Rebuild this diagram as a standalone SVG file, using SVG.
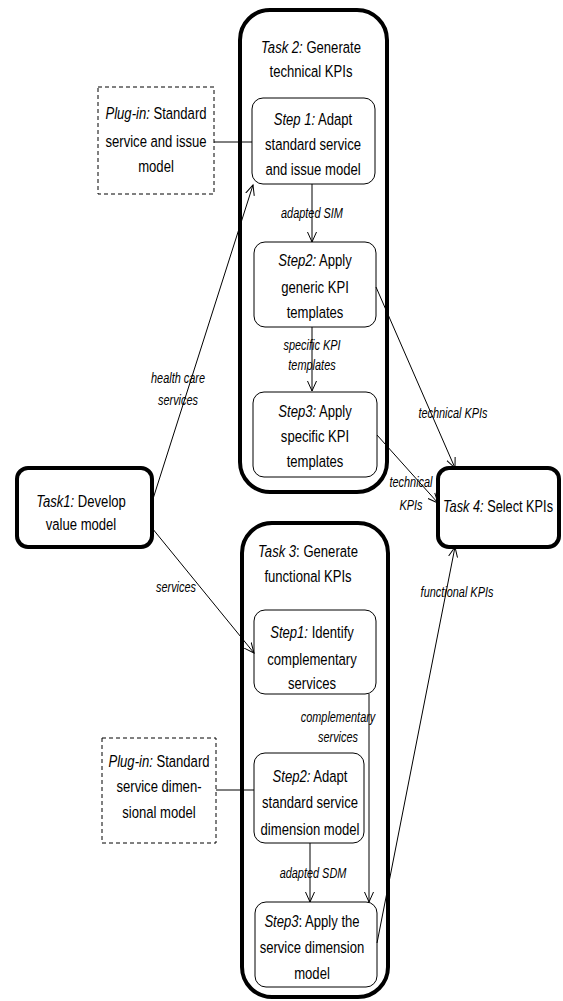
<svg xmlns="http://www.w3.org/2000/svg" width="563" height="1001" viewBox="0 0 563 1001">
<defs>
<marker id="arr" markerWidth="12" markerHeight="12" refX="10" refY="6" orient="auto" markerUnits="userSpaceOnUse">
<path d="M0,1.5 L10,6 L0,10.5" fill="none" stroke="#000" stroke-width="1"/>
</marker>
<style>
text{font-family:"Liberation Sans",Arial,sans-serif;fill:#000;text-anchor:middle}
.t{font-size:17px}
.l{font-size:14px;font-style:italic}
.i{font-style:italic}
.task{fill:#fff;stroke:#000;stroke-width:4}
.step{fill:#fff;stroke:#000;stroke-width:1}
.plug{fill:#fff;stroke:#000;stroke-width:1;stroke-dasharray:4 3}
.c{fill:none;stroke:#000;stroke-width:1}
</style>
</defs>
<rect width="563" height="1001" fill="#fff"/>

<g id="task2">
<rect class="task" x="240" y="10" width="147" height="482" rx="30"/>
<text class="t" x="0" y="53" transform="matrix(0.77 0 0 1 311 0)"><tspan class="i">Task 2:</tspan> Generate</text>
<text class="t" x="0" y="77" transform="matrix(0.77 0 0 1 311 0)">technical KPIs</text>
</g>
<g id="task3">
<rect class="task" x="242" y="523" width="146" height="474" rx="30"/>
<text class="t" x="0" y="557" transform="matrix(0.77 0 0 1 308 0)"><tspan class="i">Task 3</tspan>: Generate</text>
<text class="t" x="0" y="582" transform="matrix(0.77 0 0 1 308 0)">functional KPIs</text>
</g>
<g id="t2step1">
<rect class="step" x="252" y="98" width="123" height="86" rx="11"/>
<text class="t" x="0" y="125" transform="matrix(0.77 0 0 1 313 0)"><tspan class="i">Step 1:</tspan> Adapt</text>
<text class="t" x="0" y="150" transform="matrix(0.77 0 0 1 313 0)">standard service</text>
<text class="t" x="0" y="175" transform="matrix(0.77 0 0 1 313 0)">and issue model</text>
</g>
<g id="t2step2">
<rect class="step" x="254" y="242" width="122" height="85" rx="11"/>
<text class="t" x="0" y="266" transform="matrix(0.77 0 0 1 315 0)"><tspan class="i">Step2:</tspan> Apply</text>
<text class="t" x="0" y="293" transform="matrix(0.77 0 0 1 315 0)">generic  KPI</text>
<text class="t" x="0" y="318" transform="matrix(0.77 0 0 1 315 0)">templates</text>
</g>
<g id="t2step3">
<rect class="step" x="253" y="392" width="124" height="85" rx="11"/>
<text class="t" x="0" y="417" transform="matrix(0.77 0 0 1 315 0)"><tspan class="i">Step3:</tspan> Apply</text>
<text class="t" x="0" y="442" transform="matrix(0.77 0 0 1 315 0)">specific KPI</text>
<text class="t" x="0" y="467" transform="matrix(0.77 0 0 1 315 0)">templates</text>
</g>
<g id="t3step1">
<rect class="step" x="254" y="610" width="122" height="84" rx="11"/>
<text class="t" x="0" y="638" transform="matrix(0.77 0 0 1 312 0)"><tspan class="i">Step1:</tspan> Identify</text>
<text class="t" x="0" y="665" transform="matrix(0.77 0 0 1 312 0)">complementary</text>
<text class="t" x="0" y="689" transform="matrix(0.77 0 0 1 312 0)">services</text>
</g>
<g id="t3step2">
<rect class="step" x="254" y="753" width="110" height="90" rx="11"/>
<text class="t" x="0" y="782" transform="matrix(0.77 0 0 1 310 0)"><tspan class="i">Step2:</tspan> Adapt</text>
<text class="t" x="0" y="808" transform="matrix(0.77 0 0 1 310 0)">standard service</text>
<text class="t" x="0" y="835" transform="matrix(0.77 0 0 1 310 0)">dimension model</text>
</g>
<g id="t3step3">
<rect class="step" x="255" y="902" width="122" height="85" rx="11"/>
<text class="t" x="0" y="927" transform="matrix(0.77 0 0 1 312 0)"><tspan class="i">Step3</tspan>: Apply the</text>
<text class="t" x="0" y="953" transform="matrix(0.77 0 0 1 312 0)">service dimension</text>
<text class="t" x="0" y="979" transform="matrix(0.77 0 0 1 312 0)">model</text>
</g>
<g id="plugin1">
<rect class="plug" x="98" y="87" width="116" height="107"/>
<text class="t" x="0" y="119" transform="matrix(0.77 0 0 1 156 0)"><tspan class="i">Plug-in:</tspan> Standard</text>
<text class="t" x="0" y="147" transform="matrix(0.77 0 0 1 156 0)">service and issue</text>
<text class="t" x="0" y="172" transform="matrix(0.77 0 0 1 156 0)">model</text>
</g>
<g id="plugin2">
<rect class="plug" x="102" y="738" width="114" height="105"/>
<text class="t" x="0" y="767" transform="matrix(0.77 0 0 1 159 0)"><tspan class="i">Plug-in:</tspan> Standard</text>
<text class="t" x="0" y="792" transform="matrix(0.77 0 0 1 159 0)">service dimen-</text>
<text class="t" x="0" y="818" transform="matrix(0.77 0 0 1 159 0)">sional model</text>
</g>
<g id="task1">
<rect class="task" x="17" y="468" width="135" height="79" rx="11"/>
<text class="t" x="0" y="507" transform="matrix(0.77 0 0 1 81 0)"><tspan class="i">Task1:</tspan> Develop</text>
<text class="t" x="0" y="530" transform="matrix(0.77 0 0 1 81 0)">value model</text>
</g>
<g id="task4">
<rect class="task" x="438" y="468" width="121" height="79" rx="11"/>
<text class="t" x="0" y="512" transform="matrix(0.75 0 0 1 498 0)"><tspan class="i">Task 4:</tspan> Select KPIs</text>
</g>

<g id="connectors">
<line class="c" x1="214" y1="142" x2="252" y2="142"/>
<line class="c" x1="216" y1="790" x2="254" y2="790"/>
<line class="c" x1="312" y1="184" x2="312" y2="242" marker-end="url(#arr)"/>
<line class="c" x1="312" y1="327" x2="312" y2="391" marker-end="url(#arr)"/>
<line class="c" x1="369" y1="694" x2="369" y2="902" marker-end="url(#arr)"/>
<line class="c" x1="310" y1="843" x2="310" y2="902" marker-end="url(#arr)"/>
<line class="c" x1="152" y1="502" x2="253" y2="185" marker-end="url(#arr)"/>
<line class="c" x1="152" y1="528" x2="254" y2="653" marker-end="url(#arr)"/>
<line class="c" x1="376" y1="287" x2="455" y2="468" marker-end="url(#arr)"/>
<line class="c" x1="377" y1="435" x2="438" y2="503" marker-end="url(#arr)"/>
<line class="c" x1="377" y1="943" x2="455" y2="547" marker-end="url(#arr)"/>
<text class="l" x="0" y="218" transform="matrix(0.78 0 0 1 312 0)">adapted SIM</text>
<text class="l" x="0" y="350" transform="matrix(0.78 0 0 1 312 0)">specific KPI</text>
<text class="l" x="0" y="370" transform="matrix(0.78 0 0 1 312 0)">templates</text>
<text class="l" x="0" y="383" transform="matrix(0.78 0 0 1 178 0)">health care</text>
<text class="l" x="0" y="405" transform="matrix(0.78 0 0 1 178 0)">services</text>
<text class="l" x="0" y="418" transform="matrix(0.78 0 0 1 453 0)">technical KPIs</text>
<text class="l" x="0" y="487" transform="matrix(0.78 0 0 1 411 0)">technical</text>
<text class="l" x="0" y="510" transform="matrix(0.78 0 0 1 411 0)">KPIs</text>
<text class="l" x="0" y="592" transform="matrix(0.78 0 0 1 176 0)">services</text>
<text class="l" x="0" y="597" transform="matrix(0.78 0 0 1 457 0)">functional KPIs</text>
<text class="l" x="0" y="722" transform="matrix(0.78 0 0 1 338 0)">complementary</text>
<text class="l" x="0" y="742" transform="matrix(0.78 0 0 1 338 0)">services</text>
<text class="l" x="0" y="878" transform="matrix(0.78 0 0 1 313 0)">adapted SDM</text>
</g>
</svg>
